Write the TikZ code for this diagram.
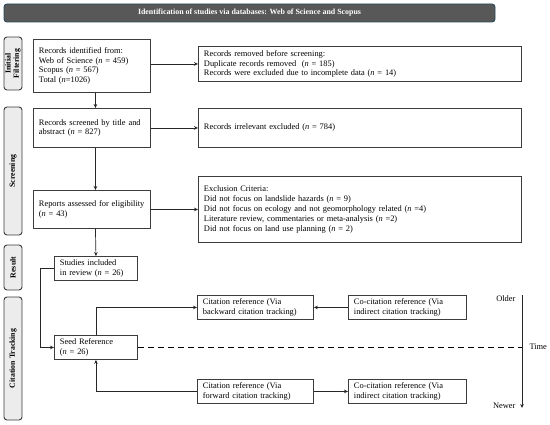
\documentclass[tikz,border=0pt]{standalone}
\usepackage{fontspec}
\setmainfont{Liberation Serif}
\usetikzlibrary{arrows.meta,positioning,calc}
\definecolor{boxc}{RGB}{60,60,60}
\definecolor{titlefill}{RGB}{88,88,88}
\definecolor{titleline}{RGB}{40,75,90}
\definecolor{pillfill}{RGB}{236,236,236}
\newcommand{\nv}{\textit{n}}
\tikzset{
  box/.style={draw=boxc, line width=0.9pt, fill=white, anchor=north west,
    align=left, inner xsep=5.5pt, inner ysep=2pt,
    font=\fontsize{8.4}{9.8}\selectfont},
  pill/.style={draw=boxc, line width=0.9pt, fill=pillfill, rounded corners=3pt,
    rotate=90, minimum height=18pt, inner sep=1pt, align=center,
    font=\fontsize{7.8}{8.2}\selectfont\bfseries},
  arr/.style={-{Stealth[length=4pt,width=3.6pt]}, line width=0.7pt, draw=black!85},
  plain/.style={font=\fontsize{8.4}{9.8}\selectfont},
}
\begin{document}
\begin{tikzpicture}[x=1pt,y=-1pt]
\useasboundingbox (0,0) rectangle (550,425);
% title
\node[draw=titleline, line width=0.9pt, fill=titlefill, rounded corners=3pt,
  minimum width=491pt, minimum height=18pt, text=white,
  font=\fontsize{7.9}{8.5}\selectfont\bfseries] (title) at (249.5,13)
  {Identification of studies via databases: Web of Science and Scopus};
% side labels
\node[pill, minimum width=53pt] (p1) at (13,63.5) {Initial\\Filtering};
\node[pill, minimum width=128pt] (p2) at (13,171) {Screening};
\node[pill, minimum width=45pt] (p3) at (13,267.5) {Result};
\node[pill, minimum width=123pt] (p4) at (13,358.5) {Citation Tracking};
% boxes
\node[box, minimum width=117pt, minimum height=53pt, text width=106pt] (A) at (33,39)
  {Records identified from:\\Web of Science (\nv{} = 459)\\Scopus (\nv{} = 567)\\Total (\nv{}=1026)};
\node[box, minimum width=323pt, minimum height=35pt, text width=312pt] (B) at (198,46)
  {Records removed before screening:\\Duplicate records removed~ (\nv{} = 185)\\Records were excluded due to incomplete data (\nv{} = 14)};
\node[box, minimum width=117pt, minimum height=39pt, text width=106pt] (C) at (33,108)
  {Records screened by title and\\abstract (\nv{} = 827)};
\node[box, minimum width=323pt, minimum height=39pt, text width=312pt] (D) at (198,108)
  {Records irrelevant excluded (\nv{} = 784)};
\node[box, minimum width=117pt, minimum height=38pt, text width=106pt] (E) at (33,190)
  {Reports assessed for eligibility\\(\nv{} = 43)};
\node[box, minimum width=323pt, minimum height=66pt, text width=312pt] (F) at (198,176)
  {Exclusion Criteria:\\Did not focus on landslide hazards (\nv{} = 9)\\Did not focus on ecology and not geomorphology related (\nv{} =4)\\Literature review, commentaries or meta-analysis (\nv{} =2)\\Did not focus on land use planning (\nv{} = 2)};
\node[box, minimum width=83pt, minimum height=24pt, text width=72pt] (G) at (54,256)
  {Studies included\\in review (\nv{} = 26)};
\node[box, minimum width=83pt, minimum height=24pt, text width=72pt] (S) at (54,335)
  {Seed Reference\\(\nv{} = 26)};
\node[box, minimum width=116pt, minimum height=24pt, text width=105pt] (bk) at (197,295)
  {Citation reference (Via\\backward citation tracking)};
\node[box, minimum width=116pt, minimum height=24pt, text width=105pt] (fw) at (197,379)
  {Citation reference (Via\\forward citation tracking)};
\node[box, minimum width=118pt, minimum height=24pt, text width=107pt] (c1) at (348,295)
  {Co-citation reference (Via\\indirect citation tracking)};
\node[box, minimum width=118pt, minimum height=24pt, text width=107pt] (c2) at (348,379)
  {Co-citation reference (Via\\indirect citation tracking)};
% time axis
\coordinate (ttop) at (522,295);
\coordinate (tbot) at (522,408);
\node[plain, anchor=east] (older) at (519,299) {Older};
\node[plain, anchor=east] (newer) at (519,406) {Newer};
\node[plain, anchor=west] (time) at (526,347) {Time};
% connectors
\draw[arr] (A.east |- B.west) -- (B.west);
\draw[arr] ([xshift=3.5pt]A.south) -- ([xshift=3.5pt]C.north);
\draw[arr] (C.east) -- (C.east -| D.west);
\draw[arr] ([xshift=3.5pt]C.south) -- ([xshift=3.5pt]E.north);
\draw[arr] (E.east) -- (E.east -| F.west);
\draw[arr] ([xshift=3.5pt]E.south) -- (G.north);
\draw[arr] (G.west) -- ++(-14,0) |- (S.west);
\draw[arr] (S.north) |- (bk.west);
\draw[arr] (c1.west) -- (bk.east);
\draw[arr] (fw.west) -| (S.south);
\draw[arr] (fw.east) -- (c2.west);
\draw[line width=0.9pt, dash pattern=on 6pt off 4pt] (S.east) -- (S.east -| ttop);
\draw[arr, line width=0.9pt] (ttop) -- (tbot);
\end{tikzpicture}
\end{document}
